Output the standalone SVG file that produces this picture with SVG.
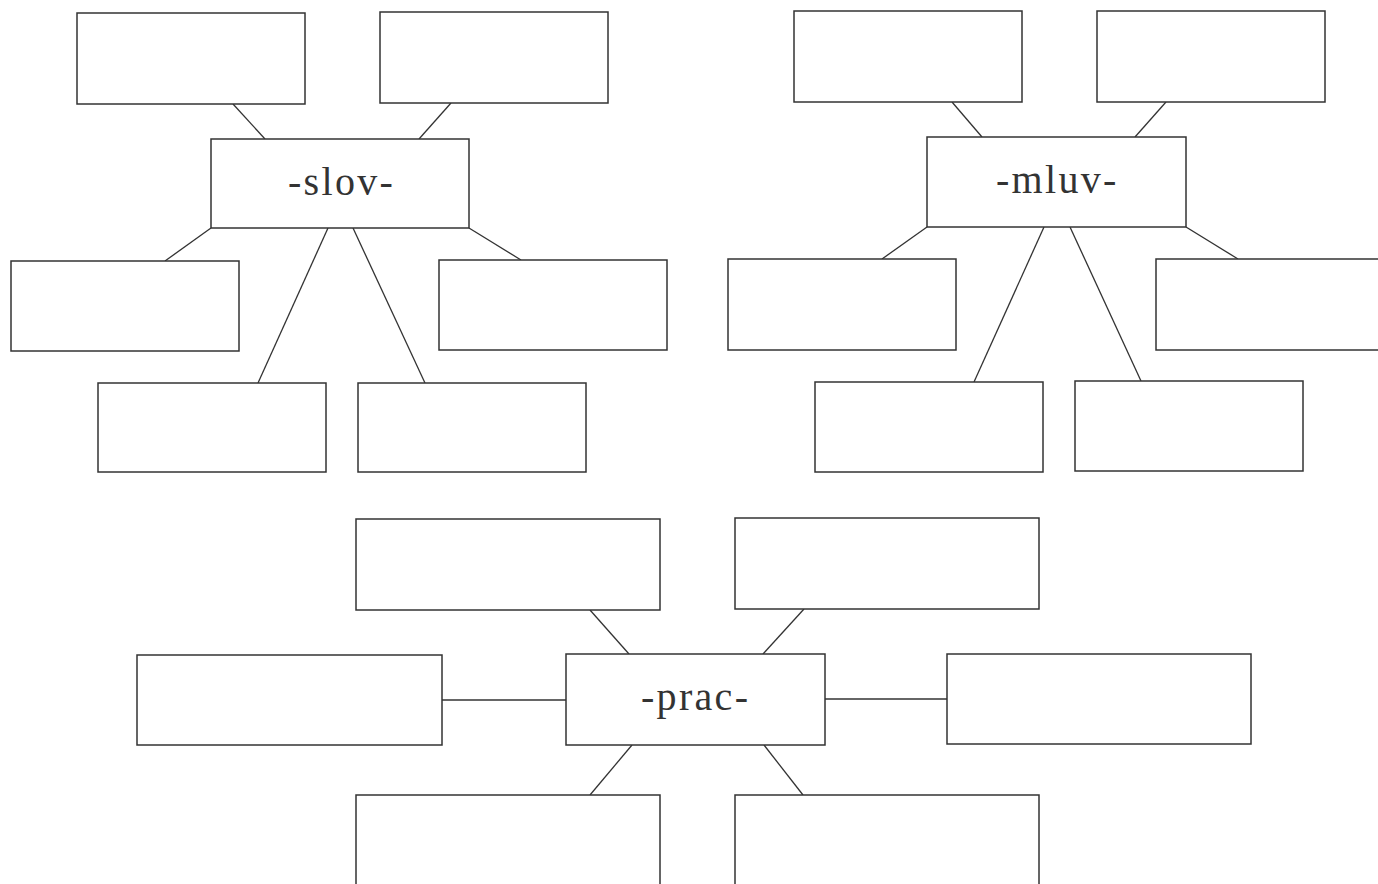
<svg xmlns="http://www.w3.org/2000/svg" width="1378" height="884" viewBox="0 0 1378 884">
<style>
.box{fill:#fff;stroke:#333;stroke-width:1.5}
.ln{stroke:#333;stroke-width:1.3;fill:none}
.lbl{font-family:"Liberation Serif","Times New Roman",serif;font-size:40px;letter-spacing:2.3px;fill:#333}
</style>
<rect width="1378" height="884" fill="#fff"/>
<g id="connectors">
<line class="ln" x1="233" y1="104" x2="265" y2="139"/>
<line class="ln" x1="451" y1="103" x2="419" y2="139"/>
<line class="ln" x1="211" y1="228" x2="165" y2="261"/>
<line class="ln" x1="469" y1="228" x2="521" y2="260"/>
<line class="ln" x1="328" y1="228" x2="258" y2="383"/>
<line class="ln" x1="353" y1="228" x2="425" y2="383"/>
<line class="ln" x1="952" y1="102" x2="982" y2="137"/>
<line class="ln" x1="1166" y1="102" x2="1135" y2="137"/>
<line class="ln" x1="927" y1="227" x2="882" y2="259"/>
<line class="ln" x1="1186" y1="227" x2="1238" y2="259"/>
<line class="ln" x1="1044" y1="227" x2="974" y2="382"/>
<line class="ln" x1="1070" y1="227" x2="1141" y2="381"/>
<line class="ln" x1="590" y1="610" x2="629" y2="654"/>
<line class="ln" x1="804" y1="609" x2="763" y2="654"/>
<line class="ln" x1="442" y1="700" x2="566" y2="700"/>
<line class="ln" x1="825" y1="699" x2="947" y2="699"/>
<line class="ln" x1="632" y1="745" x2="590" y2="795"/>
<line class="ln" x1="764" y1="745" x2="803" y2="795"/>
</g>
<g id="slov"><rect class="box" x="211" y="139" width="258" height="89"/><text class="lbl" x="288" y="195">-slov-</text></g>
<g id="slov-a"><rect class="box" x="77" y="13" width="228" height="91"/></g>
<g id="slov-b"><rect class="box" x="380" y="12" width="228" height="91"/></g>
<g id="slov-c"><rect class="box" x="11" y="261" width="228" height="90"/></g>
<g id="slov-d"><rect class="box" x="439" y="260" width="228" height="90"/></g>
<g id="slov-e"><rect class="box" x="98" y="383" width="228" height="89"/></g>
<g id="slov-f"><rect class="box" x="358" y="383" width="228" height="89"/></g>
<g id="mluv"><rect class="box" x="927" y="137" width="259" height="90"/><text class="lbl" x="996" y="193">-mluv-</text></g>
<g id="mluv-a"><rect class="box" x="794" y="11" width="228" height="91"/></g>
<g id="mluv-b"><rect class="box" x="1097" y="11" width="228" height="91"/></g>
<g id="mluv-c"><rect class="box" x="728" y="259" width="228" height="91"/></g>
<g id="mluv-d"><rect class="box" x="1156" y="259" width="240" height="91"/></g>
<g id="mluv-e"><rect class="box" x="815" y="382" width="228" height="90"/></g>
<g id="mluv-f"><rect class="box" x="1075" y="381" width="228" height="90"/></g>
<g id="prac"><rect class="box" x="566" y="654" width="259" height="91"/><text class="lbl" x="641" y="710">-prac-</text></g>
<g id="prac-a"><rect class="box" x="356" y="519" width="304" height="91"/></g>
<g id="prac-b"><rect class="box" x="735" y="518" width="304" height="91"/></g>
<g id="prac-c"><rect class="box" x="137" y="655" width="305" height="90"/></g>
<g id="prac-d"><rect class="box" x="947" y="654" width="304" height="90"/></g>
<g id="prac-e"><rect class="box" x="356" y="795" width="304" height="100"/></g>
<g id="prac-f"><rect class="box" x="735" y="795" width="304" height="100"/></g>
</svg>
